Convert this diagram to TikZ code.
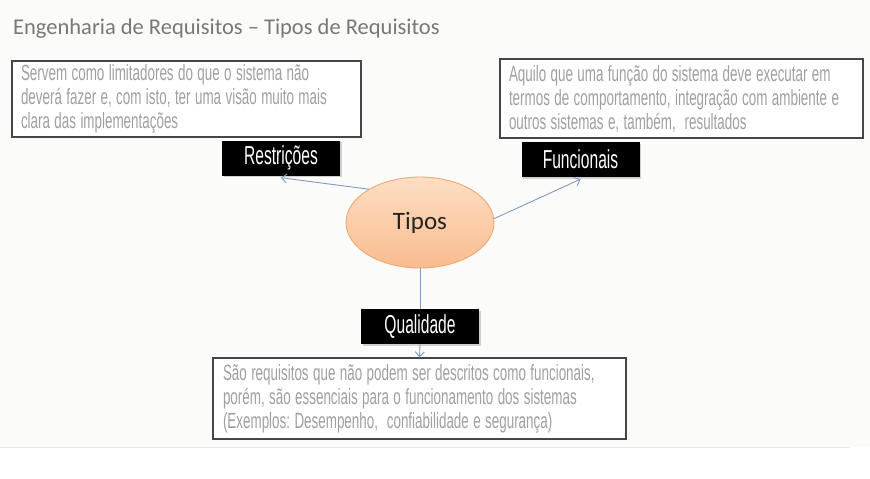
\documentclass[tikz,border=0pt]{standalone}
\usepackage{fontspec}
\setmainfont{Carlito}
\newfontfamily\agency[FakeStretch=0.61]{Liberation Sans}
\newfontfamily\agencylbl[FakeStretch=0.6]{Liberation Sans}
\usetikzlibrary{shapes.geometric,shadows,arrows.meta}
\definecolor{bgc}{RGB}{251,251,249}
\definecolor{sepc}{RGB}{234,234,234}
\definecolor{titc}{RGB}{120,120,120}
\definecolor{desctext}{RGB}{160,160,160}
\definecolor{boxline}{RGB}{70,70,70}
\definecolor{arrc}{RGB}{125,155,195}
\definecolor{peachtop}{RGB}{253,222,196}
\definecolor{peachbot}{RGB}{249,188,142}
\definecolor{peachline}{RGB}{240,168,112}
\tikzset{
  descbox/.style={draw=boxline, line width=1.2pt, fill=white, text=desctext,
    align=left, inner sep=0pt, font=\agency\fontsize{22}{24}\selectfont,
    execute at begin node={\frenchspacing\spaceskip=4.4pt plus 1pt\relax},
    drop shadow={shadow xshift=1pt, shadow yshift=-1pt, opacity=0.3}},
  lblbox/.style={fill=black, text=white, minimum width=118pt, minimum height=35pt,
    inner sep=0pt, font=\agencylbl\fontsize{26}{28}\selectfont,
    drop shadow={shadow xshift=1.5pt, shadow yshift=-1.5pt, opacity=0.35}},
  arr/.style={draw=arrc, line width=0.9pt, -{Straight Barb[length=5pt,width=9pt]}},
  plainln/.style={draw=arrc, line width=0.9pt}
}
\begin{document}
\begin{tikzpicture}[x=1pt,y=-1pt]
\useasboundingbox (0,0) rectangle (870,479);
\fill[bgc] (0,0) rectangle (870,447);
\fill[white] (0,447) rectangle (870,479);
\draw[sepc, line width=0.8pt] (0,447) -- (850,447);

\node[anchor=base west, text=titc, font=\fontsize{22.5}{26}\selectfont, inner sep=0pt] (title) at (13,34)
  {Engenharia de Requisitos – Tipos de Requisitos};

\node[descbox, minimum width=349pt, minimum height=76pt, text width=331pt] (d1) at (186.5,99)
  {Servem como limitadores do que o sistema não\\deverá fazer e, com isto, ter uma visão muito mais\\clara das implementações};
\node[descbox, minimum width=363pt, minimum height=79pt, text width=345pt] (d2) at (681.5,98.5)
  {Aquilo que uma função do sistema deve executar em\\termos de comportamento, integração com ambiente e\\outros sistemas e, também,\ \ resultados};
\node[descbox, minimum width=413pt, minimum height=81pt, text width=393pt] (d3) at (419.5,398.5)
  {São requisitos que não podem ser descritos como funcionais,\\porém, são essenciais para o funcionamento dos sistemas\\(Exemplos: Desempenho,\ \ confiabilidade e segurança)};

\node[ellipse, minimum width=148pt, minimum height=91pt, draw=peachline, line width=0.9pt,
  top color=peachtop, bottom color=peachbot, text={rgb,255:red,35;green,35;blue,35},
  font=\fontsize{25}{28}\selectfont] (tipos) at (420,222.5) {Tipos};

\node[lblbox] (restr) at (281,158) {Restrições};
\node[lblbox] (func) at (580.5,159.5) {Funcionais};
\node[lblbox] (qual) at (420,326.5) {Qualidade};

\draw[arr] (tipos.147) -- ([yshift=-2pt]restr.south);
\draw[arr] (tipos.3) -- ([yshift=-2pt]func.south);
\draw[plainln] (tipos.south) -- (qual.north);
\draw[arr] (qual.south) -- (d3.north);
\end{tikzpicture}
\end{document}
